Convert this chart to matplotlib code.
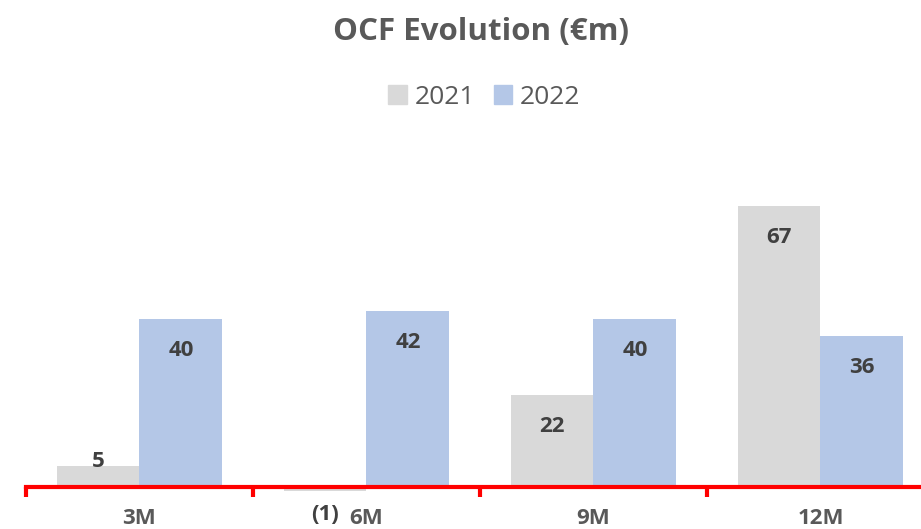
import matplotlib
matplotlib.use('Agg')
import matplotlib.pyplot as plt
from matplotlib.patches import Patch
import numpy as np

plt.rcParams['font.family'] = ['Open Sans', 'DejaVu Sans']

categories = ['3M', '6M', '9M', '12M']
ocf_2021 = [5, -1, 22, 67]
ocf_2022 = [40, 42, 40, 36]
series_names = ['2021', '2022']

grey = '#D9D9D9'
blue = '#B4C7E7'
text_col = '#595959'
label_col = '#404040'
red = '#FF0000'

fig = plt.figure(figsize=(9.21, 5.29), dpi=100)
ax = fig.add_axes([0.0282, 0.0556, 0.9718, 0.659])

x = np.arange(len(categories))
w = 0.365
b1 = ax.bar(x - w / 2, ocf_2021, w, color=grey, zorder=2)
b2 = ax.bar(x + w / 2, ocf_2022, w, color=blue, zorder=2)


def label(bars, vals):
    for bar, v in zip(bars, vals):
        cx = bar.get_x() + bar.get_width() / 2
        if v < 0:
            txt, off = '(%d)' % abs(v), -17
        elif v < 10:
            txt, off = str(v), 3
        else:
            txt, off = str(v), -23
        ax.annotate(txt, (cx, v), xytext=(0, off), textcoords='offset points',
                    ha='center', va='center', fontsize=16, fontweight='bold',
                    color=label_col)


label(b1, ocf_2021)
label(b2, ocf_2022)

for s in ['top', 'left', 'right']:
    ax.spines[s].set_visible(False)
ax.spines['bottom'].set_position(('data', 0))
ax.spines['bottom'].set_color(red)
ax.spines['bottom'].set_linewidth(3)
ax.spines['bottom'].set_zorder(3)

ax.set_yticks([])
ax.set_xticks(x)
ax.set_xticklabels(categories, fontsize=16, fontweight='bold', color=text_col)
ax.tick_params(axis='x', which='major', length=0, pad=15)
ax.set_xticks(np.arange(-0.5, len(categories) - 0.5, 1), minor=True)
ax.tick_params(axis='x', which='minor', length=7, width=3, color=red, direction='out')

ax.set_xlim(-0.5, -0.5 + 895 / 227)
ax.set_ylim(-3, 80)

fig.text(0.522, 1 - 32 / 529, 'OCF Evolution (€m)', ha='center', va='center',
         fontsize=22.5, fontweight='bold', color=text_col)

handles = [Patch(color=grey), Patch(color=blue)]
fig.legend(handles, series_names, loc='center', bbox_to_anchor=(0.526, 1 - 97 / 529),
           ncol=2, frameon=False, fontsize=19, handlelength=0.7, handleheight=0.7,
           handletextpad=0.3, columnspacing=0.7, labelcolor=text_col)

fig.savefig('out.png', dpi=100)
